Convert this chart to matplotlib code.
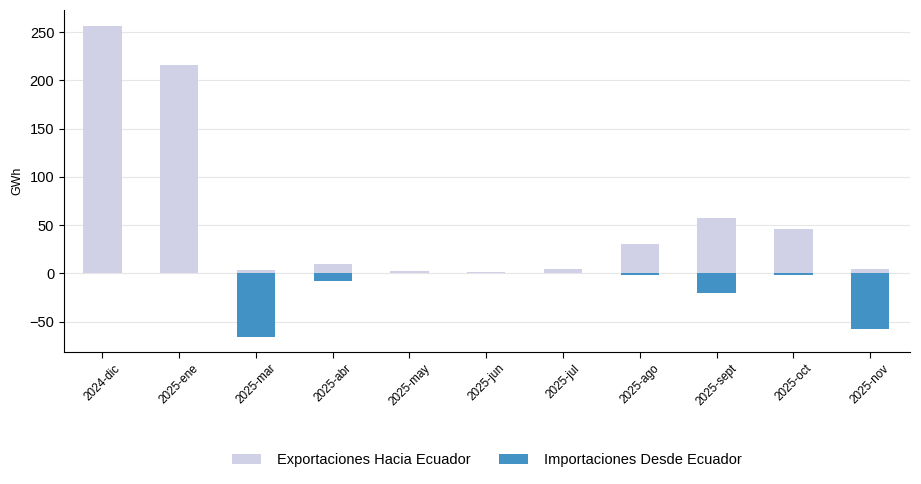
import matplotlib
matplotlib.use("Agg")
import matplotlib.pyplot as plt

categories = ["2024-dic", "2025-ene", "2025-mar", "2025-abr", "2025-may", "2025-jun",
              "2025-jul", "2025-ago", "2025-sept", "2025-oct", "2025-nov"]
exportaciones = [256.5, 215.8, 3.4, 9.3, 2.0, 1.0, 4.1, 30.4, 57.4, 46.0, 4.8]
importaciones = [0.0, 0.0, -66.4, -7.6, 0.0, 0.0, 0.0, -2.0, -20.7, -2.0, -57.5]
yticks = [-50, 0, 50, 100, 150, 200, 250]

plt.rcParams['font.family'] = ['Liberation Sans', 'DejaVu Sans']

fig = plt.figure(figsize=(9.21, 4.84), dpi=100)
ax = fig.add_axes([64/921, 1 - 352/484, (910-64)/921, (352-10)/484])

x = list(range(len(categories)))
ax.bar(x, exportaciones, width=0.5, color="#d0d1e6", label="Exportaciones Hacia Ecuador", zorder=2)
ax.bar(x, importaciones, width=0.5, color="#4292c6", label="Importaciones Desde Ecuador", zorder=3)

ax.set_xlim(-0.5, 10.52)
ax.set_ylim(-81.6, 273)
ax.set_yticks(yticks)
ax.set_xticks(x)
ax.set_xticklabels(categories, rotation=45, fontsize=8.5)
ax.tick_params(axis='y', labelsize=10.5)
ax.tick_params(axis='x', length=4)
ax.yaxis.grid(True, color="#e6e6e6", linewidth=0.8, zorder=0)
ax.set_axisbelow(True)
ax.set_ylabel("GWh", fontsize=9)
for s in ["top", "right"]:
    ax.spines[s].set_visible(False)

fig.legend(loc="center", bbox_to_anchor=(487/921, 1 - 460/484), ncol=2, frameon=False,
           fontsize=10.5, handlelength=2.0, handletextpad=1.1, columnspacing=1.9)

fig.savefig("out.png", dpi=100)
